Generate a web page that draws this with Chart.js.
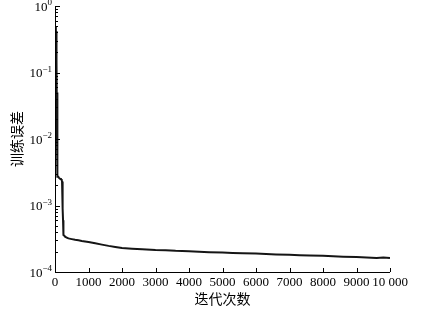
<!DOCTYPE html>
<html>
<head>
<meta charset="utf-8">
<script src="https://cdn.jsdelivr.net/npm/chart.js@4"></script>
<style>
  html, body { margin: 0; padding: 0; background: #fff; }
  #wrap { width: 431px; height: 314px; }
</style>
</head>
<body>
<div id="wrap"><canvas id="myChart" width="431" height="314"></canvas></div>
<script>
const iterations = [
  20, 25, 30, 35, 40, 45, 50, 55, 60, 63,
  66, 69, 72, 76, 80, 100, 120, 140, 160, 180,
  200, 210, 220, 225, 230, 235, 240, 245, 250, 260,
  280, 300, 350, 400, 500, 600, 700, 800, 1000, 1200,
  1400, 1600, 1800, 2000, 2300, 2600, 3000, 3300, 3600, 4000,
  4300, 4600, 5000, 5300, 5600, 6000, 6300, 6600, 7000, 7300,
  7600, 8000, 8300, 8600, 9000, 9300, 9600, 9800, 10000,
];
const trainError = [
  0.45, 0.5, 0.2, 0.42, 0.08, 0.3, 0.03, 0.15, 0.01, 0.05,
  0.006, 0.004, 0.0029, 0.0028, 0.0027, 0.0027, 0.0026, 0.0026, 0.0025, 0.0025,
  0.0024, 0.0023, 0.0021, 0.0018, 0.0012, 0.0009, 0.0006, 0.00045, 0.00038, 0.00036,
  0.00035, 0.00034, 0.00033, 0.00032, 0.000312, 0.000305, 0.0003, 0.000293, 0.000282, 0.00027,
  0.000258, 0.000247, 0.000238, 0.00023, 0.000224, 0.000219, 0.000214, 0.000212, 0.000208, 0.000205,
  0.000202, 0.000199, 0.000196, 0.000193, 0.000191, 0.000189, 0.000186, 0.000184, 0.000182, 0.000179,
  0.000177, 0.000175, 0.000172, 0.00017, 0.000168, 0.000165, 0.000163, 0.000165, 0.000162,
];
const xTicks = [0, 1000, 2000, 3000, 4000, 5000, 6000, 7000, 8000, 9000, 10000];
const yDecades = [0, -1, -2, -3, -4];

const serif = "'Liberation Serif', 'Times New Roman', serif";
const cjk = "'Noto Sans CJK SC', sans-serif";

// axis lines, inward ticks and 10^n labels
const axisDecor = {
  id: "axisDecor",
  afterDraw(chart) {
    const { ctx, chartArea, scales } = chart;
    const x = scales.x, y = scales.y;
    ctx.save();
    ctx.strokeStyle = "#000";
    ctx.lineWidth = 1;
    ctx.beginPath();
    ctx.moveTo(chartArea.left + 0.5, chartArea.top);
    ctx.lineTo(chartArea.left + 0.5, chartArea.bottom + 0.5);
    ctx.lineTo(chartArea.right, chartArea.bottom + 0.5);
    for (const v of xTicks) {
      const px = Math.round(x.getPixelForValue(v)) + 0.5;
      ctx.moveTo(px, chartArea.bottom);
      ctx.lineTo(px, chartArea.bottom - 4);
    }
    for (let e = -4; e <= 0; e++) {
      for (let m = 1; m <= 9; m++) {
        const v = m * Math.pow(10, e);
        if (v > 1.0000001) break;
        const py = Math.round(y.getPixelForValue(v)) + 0.5;
        ctx.moveTo(chartArea.left, py);
        ctx.lineTo(chartArea.left + (m === 1 ? 5 : 3), py);
      }
    }
    ctx.stroke();

    ctx.fillStyle = "#000";
    ctx.textBaseline = "alphabetic";
    ctx.textAlign = "left";
    for (const e of yDecades) {
      const py = y.getPixelForValue(Math.pow(10, e));
      const sup = e === 0 ? "0" : "\u2212" + (-e);
      ctx.font = "9px " + serif;
      const wSup = ctx.measureText(sup).width;
      ctx.font = "13px " + serif;
      const wBase = ctx.measureText("10").width;
      const right = chartArea.left - 3;
      const x0 = right - wSup - wBase;
      ctx.fillText("10", x0, py + 4.5);
      ctx.font = "9px " + serif;
      ctx.fillText(sup, x0 + wBase, py - 1);
    }
    ctx.restore();
  },
};

new Chart(document.getElementById("myChart"), {
  type: "line",
  data: {
    datasets: [
      {
        data: iterations.map((it, i) => ({ x: it, y: trainError[i] })),
        borderColor: "#151515",
        borderWidth: 2,
        pointRadius: 0,
        tension: 0,
        fill: false,
      },
    ],
  },
  options: {
    responsive: false,
    animation: false,
    layout: { padding: { left: 0, top: 6, right: 41, bottom: 0 } },
    plugins: { legend: { display: false }, tooltip: { enabled: false } },
    scales: {
      x: {
        type: "linear",
        min: 0,
        max: 10000,
        afterFit: (s) => { s.height = 42; },
        afterBuildTicks: (s) => { s.ticks = xTicks.map((v) => ({ value: v })); },
        grid: { display: false, drawTicks: false },
        border: { display: false },
        ticks: {
          autoSkip: false,
          maxRotation: 0,
          padding: 3,
          color: "#000",
          font: { family: serif, size: 13 },
          callback: (v) => (v === 10000 ? "10 000" : String(v)),
        },
        title: {
          display: true,
          text: "迭代次数",
          color: "#000",
          font: { family: cjk, size: 14 },
          padding: { top: 0, bottom: 7 },
        },
      },
      y: {
        type: "logarithmic",
        min: 0.0001,
        max: 1,
        afterFit: (s) => { s.width = 55; },
        grid: { display: false, drawTicks: false },
        border: { display: false },
        ticks: { display: false },
        title: {
          display: true,
          text: "训练误差",
          color: "#000",
          font: { family: cjk, size: 14 },
          padding: { top: 8, bottom: 0 },
        },
      },
    },
  },
  plugins: [axisDecor],
});
</script>
</body>
</html>
